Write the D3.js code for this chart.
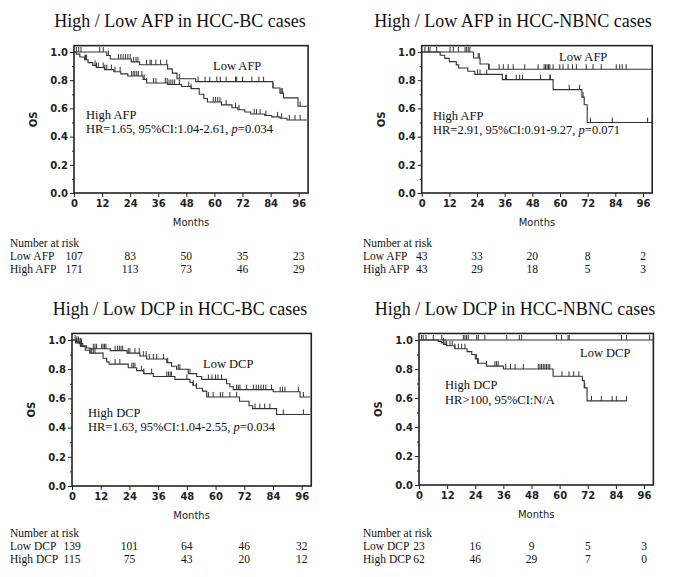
<!DOCTYPE html>
<html><head><meta charset="utf-8">
<script src="https://cdn.jsdelivr.net/npm/d3@7"></script>
<style>body{margin:0;background:#fff}svg{display:block}</style>
</head><body>
<svg id="c" width="677" height="577"></svg>
<script>
// ---------- DATA ----------
const xTicks = [0, 12, 24, 36, 48, 60, 72, 84, 96];
const yTicks = [0, 0.2, 0.4, 0.6, 0.8, 1.0];
const yMinorTicks = [0.1, 0.3, 0.5, 0.7, 0.9];
const riskTimes = [0, 24, 48, 72, 96];

const titles = ["High / Low AFP in HCC-BC cases", "High / Low AFP in HCC-NBNC cases",
                "High / Low DCP in HCC-BC cases", "High / Low DCP in HCC-NBNC cases"];
const lowLabels = ["Low AFP", "Low AFP", "Low DCP", "Low DCP"];
const highLabels = ["High AFP", "High AFP", "High DCP", "High DCP"];
const stats = [["HR=1.65, 95%CI:1.04-2.61, ", "p", "=0.034"],
               ["HR=2.91, 95%CI:0.91-9.27, ", "p", "=0.071"],
               ["HR=1.63, 95%CI:1.04-2.55, ", "p", "=0.034"],
               ["HR>100, 95%CI:N/A", "", ""]];

// Panel 1: AFP, HCC-BC
const p1LowSteps = [[0,1],[14,0.975],[15.5,0.95],[24.5,0.93],[28,0.91],[40,0.88],[42,0.85],[44,0.81],[52,0.79],[85,0.745],[88,0.708],[89.5,0.675],[95.7,0.615]];
const p1LowEnd = 99.5;
const p1LowCensor = [1,2,3,11,12.5,14.7,19,20,21,22,23,24,25.5,26.5,27.3,31,32.5,33,35,37,39.6,45,53,56,58,61,62.5,65,69,69.5,72,76,79,81,85,88.5,89,96.6];
const p1HighSteps = [[0,1],[1,0.985],[2.5,0.965],[4.5,0.945],[6,0.925],[8,0.905],[9.5,0.89],[13,0.875],[17,0.86],[20,0.845],[23,0.83],[29.5,0.805],[31,0.78],[40,0.77],[46,0.755],[50,0.74],[53.5,0.70],[55.5,0.67],[57,0.645],[63,0.625],[67.5,0.605],[70,0.59],[73,0.575],[75.5,0.56],[81.5,0.55],[84.5,0.54],[88,0.53],[91,0.518]];
const p1HighEnd = 99.5;
const p1HighCensor = [4.7,5,5.4,9,9.6,10.4,12.5,13.2,14,16,17.5,19.7,24.6,25.3,26,26.8,27.5,29,30,31,34,35,39,39.8,40.6,41.4,42.2,43,45,49,50,59.5,60.5,61.4,62.4,65,69,70.5,77,78,79.5,82,87,88.7,92,94.4,96.6];

// Panel 2: AFP, HCC-NBNC
const p2LowSteps = [[0,1],[22.5,0.957],[25.3,0.915],[29,0.878]];
const p2LowEnd = 100;
const p2LowCensor = [1.4,2.9,3.6,6.5,12.3,13.7,15.9,18.8,19.5,20.2,20.9,24.5,25,29.3,33.6,35.4,37.5,39.7,44.7,50.5,53.1,53.7,54.4,55,55.6,57,59.9,61.3,63.5,65.4,67.1,71.4,74.3,77.9,84.4,85.9,87,88.7];
const p2HighSteps = [[0,1],[8,0.977],[10,0.955],[12,0.932],[15,0.909],[16,0.886],[20,0.864],[23,0.841],[35,0.804],[57,0.733],[69.5,0.68],[70.5,0.626],[71.8,0.50]];
const p2HighEnd = 100;
const p2HighCensor = [24.2,25.3,28.2,36.4,36.8,41,42.5,43.7,51.6,55.6,55.8,64,68.5,70,73.2,82.7,98];

// Panel 3: DCP, HCC-BC
const p3LowSteps = [[0,1],[1.5,0.99],[3,0.975],[4.5,0.96],[6,0.945],[7.5,0.94],[16,0.927],[23,0.91],[28.4,0.89],[31.2,0.87],[39.6,0.845],[41.6,0.82],[43.7,0.80],[48.6,0.77],[52.1,0.75],[54.2,0.73],[64.6,0.70],[66,0.68],[67.4,0.66],[84.1,0.646],[95.3,0.61]];
const p3LowEnd = 99.5;
const p3LowCensor = [1.3,2,2.7,3.4,4,8.9,9.6,10.3,12.4,13,13.6,14.2,18,19,19.8,20.5,21.2,23.5,24.2,26.3,28.1,29.8,31,32.3,34,35.4,38.2,40,44.4,45.1,49.3,57,58.5,60,61,62.5,68.8,69.5,70.2,73,75.8,77,78,79,80,81,83.4,87,88,89,94.6,96.7];
const p3HighSteps = [[0,1],[1.5,0.98],[3.5,0.955],[5.5,0.93],[7.5,0.91],[13,0.875],[14.5,0.85],[15.5,0.835],[23.5,0.81],[27,0.79],[30,0.77],[34,0.75],[43,0.73],[49.3,0.71],[50.5,0.69],[52,0.67],[54.5,0.65],[56.3,0.61],[70,0.58],[74,0.55],[75.5,0.53],[85.5,0.49]];
const p3HighEnd = 99.5;
const p3HighCensor = [2,2.7,3.4,4,7.5,8.2,8.9,9.6,18,20,25,25.6,26.3,29,30,33.3,39.6,40.3,41,41.6,48,50.7,52,57,59,62,63,66,68.8,76.5,78.5,80.5,82.7,88.3,96.7];

// Panel 4: DCP, HCC-NBNC
const p4LowSteps = [[0,1]];
const p4LowEnd = 100;
const p4LowCensor = [1.1,1.8,3,6.1,9.7,18.9,19.6,20.3,21,24.6,25.3,28.1,37.4,42.8,43.8,58.7,60.8,63.6,64.1,86.4,88.5,98.4];
const p4HighSteps = [[0,1],[8.2,0.99],[9.7,0.98],[10.5,0.97],[11.8,0.96],[15.3,0.94],[20.5,0.92],[22.5,0.90],[24,0.87],[25,0.84],[28.8,0.82],[36,0.80],[57.2,0.75],[69.7,0.72],[70.5,0.67],[71.7,0.58]];
const p4HighEnd = 88.5;
const p4HighCensor = [10.4,11.1,11.8,13.2,14.2,15.3,16.8,18.2,19.6,24.6,25.3,28.8,32.4,33.1,33.8,37,39,41,44.5,50.9,51.6,52.3,53,53.7,54.4,55.1,55.8,61,64,66,68.2,70.7,73.6,77.8,82.4,84.2,88.5];

// Numbers at risk
const p1RiskLow = [107, 83, 50, 35, 23];
const p1RiskHigh = [171, 113, 73, 46, 29];
const p2RiskLow = [43, 33, 20, 8, 2];
const p2RiskHigh = [43, 29, 18, 5, 3];
const p3RiskLow = [139, 101, 64, 46, 32];
const p3RiskHigh = [115, 75, 43, 20, 12];
const p4RiskLow = [23, 16, 9, 5, 3];
const p4RiskHigh = [62, 46, 29, 7, 0];

// ---------- LAYOUT ----------
const panels = [
  {x0:74,  x96:298.7, y0:193, y1:52,  tx:180, ty:27,  lowPos:[213,70],  highPos:[86,119],  statY:133, riskX:10,  riskY:247,
   low:{s:p1LowSteps,e:p1LowEnd,c:p1LowCensor}, high:{s:p1HighSteps,e:p1HighEnd,c:p1HighCensor}, rl:p1RiskLow, rh:p1RiskHigh},
  {x0:421.7, x96:643, y0:193, y1:52, tx:513, ty:27, lowPos:[559,61], highPos:[433,120], statY:134, riskX:363, riskY:247,
   low:{s:p2LowSteps,e:p2LowEnd,c:p2LowCensor}, high:{s:p2HighSteps,e:p2HighEnd,c:p2HighCensor}, rl:p2RiskLow, rh:p2RiskHigh},
  {x0:72, x96:301.7, y0:486, y1:340, tx:180, ty:315, lowPos:[203,368], highPos:[88,417], statY:431, riskX:10, riskY:537,
   low:{s:p3LowSteps,e:p3LowEnd,c:p3LowCensor}, high:{s:p3HighSteps,e:p3HighEnd,c:p3HighCensor}, rl:p3RiskLow, rh:p3RiskHigh},
  {x0:419, x96:644, y0:485, y1:340, tx:515, ty:315, lowPos:[580,357], highPos:[445,389], statY:404, riskX:363, riskY:537,
   low:{s:p4LowSteps,e:p4LowEnd,c:p4LowCensor}, high:{s:p4HighSteps,e:p4HighEnd,c:p4HighCensor}, rl:p4RiskLow, rh:p4RiskHigh}
];

const svg = d3.select("#c");
const serif = "'Liberation Serif','Times New Roman',serif";
const sans = "'DejaVu Sans',Verdana,sans-serif";
const ink = "#222";

panels.forEach((p, i) => {
  const x = d3.scaleLinear().domain([0, 96]).range([p.x0, p.x96]);
  const y = d3.scaleLinear().domain([0, 1]).range([p.y0, p.y1]);
  const g = svg.append("g");

  // title
  g.append("text").attr("x", p.tx).attr("y", p.ty).attr("text-anchor", "middle")
    .style("font-family", serif).style("font-size", "18px").attr("fill", "#111").text(titles[i]);

  // frame
  g.append("rect").attr("x", x(0)).attr("y", y(1.045)).attr("width", x(100) - x(0)).attr("height", y(0) - y(1.045))
    .attr("fill", "none").attr("stroke", ink).attr("stroke-width", 1.6);

  // x axis
  const xa = g.append("g").attr("transform", `translate(0,${y(0)})`)
    .call(d3.axisBottom(x).tickValues(xTicks).tickSize(4).tickPadding(3).tickFormat(d3.format("d")));
  xa.select(".domain").remove();
  xa.selectAll("line").attr("stroke", ink);
  xa.selectAll("text").style("font-family", sans).style("font-size", "10px").style("font-weight", "bold").attr("fill", "#222");

  // y axis
  const ya = g.append("g").attr("transform", `translate(${x(0)},0)`)
    .call(d3.axisLeft(y).tickValues(yTicks).tickSize(4).tickPadding(2).tickFormat(d3.format(".1f")));
  ya.select(".domain").remove();
  ya.selectAll("line").attr("stroke", ink);
  ya.selectAll("text").style("font-family", sans).style("font-size", "10px").style("font-weight", "bold").attr("fill", "#222");
  const ym = g.append("g").attr("transform", `translate(${x(0)},0)`)
    .call(d3.axisLeft(y).tickValues(yMinorTicks).tickSize(2).tickFormat(""));
  ym.select(".domain").remove();
  ym.selectAll("line").attr("stroke", ink);

  // axis titles
  g.append("text").attr("x", (x(0) + x(100)) / 2).attr("y", y(0) + 33).attr("text-anchor", "middle")
    .style("font-family", sans).style("font-size", "10px").attr("fill", "#222").text("Months");
  g.append("text").attr("transform", `translate(${x(0) - 37},${(y(0) + y(1.045)) / 2}) rotate(-90)`)
    .attr("text-anchor", "middle").style("font-family", sans).style("font-size", "10px").style("font-weight", "bold")
    .attr("fill", "#222").text("OS");

  // curves
  const line = d3.line().x(d => x(d[0])).y(d => y(d[1])).curve(d3.curveStepAfter);
  const bis = d3.bisector(d => d[0]).right;
  [p.low, p.high].forEach(cv => {
    const pts = cv.s.concat([[cv.e, cv.s[cv.s.length - 1][1]]]);
    g.append("path").attr("d", line(pts)).attr("fill", "none").attr("stroke", "#333").attr("stroke-width", 1.1);
    const survAt = t => cv.s[Math.max(0, bis(cv.s, t) - 1)][1];
    g.selectAll(null).data(cv.c).enter().append("line")
      .attr("x1", d => x(d)).attr("x2", d => x(d))
      .attr("y1", d => y(survAt(d))).attr("y2", d => y(survAt(d)) - 5)
      .attr("stroke", "#333").attr("stroke-width", 1);
  });

  // annotations
  const ann = (tx, ty, s) => g.append("text").attr("x", tx).attr("y", ty)
    .style("font-family", serif).style("font-size", "12.5px").attr("fill", "#111").text(s);
  ann(p.lowPos[0], p.lowPos[1], lowLabels[i]);
  ann(p.highPos[0], p.highPos[1], highLabels[i]);
  const st = g.append("text").attr("x", p.highPos[0]).attr("y", p.statY)
    .style("font-family", serif).style("font-size", "12.5px").attr("fill", "#111");
  st.append("tspan").text(stats[i][0]);
  if (stats[i][1]) st.append("tspan").style("font-style", "italic").text(stats[i][1]);
  if (stats[i][2]) st.append("tspan").text(stats[i][2]);

  // risk table
  const rt = (tx, ty, s, anchor) => g.append("text").attr("x", tx).attr("y", ty).attr("text-anchor", anchor || "start")
    .style("font-family", serif).style("font-size", "11.5px").attr("fill", "#111").text(s);
  rt(p.riskX, p.riskY, "Number at risk");
  rt(p.riskX, p.riskY + 13, lowLabels[i]);
  rt(p.riskX, p.riskY + 26, highLabels[i]);
  riskTimes.forEach((t, k) => {
    rt(x(t), p.riskY + 13, String(p.rl[k]), "middle");
    rt(x(t), p.riskY + 26, String(p.rh[k]), "middle");
  });
});
</script>
</body></html>
